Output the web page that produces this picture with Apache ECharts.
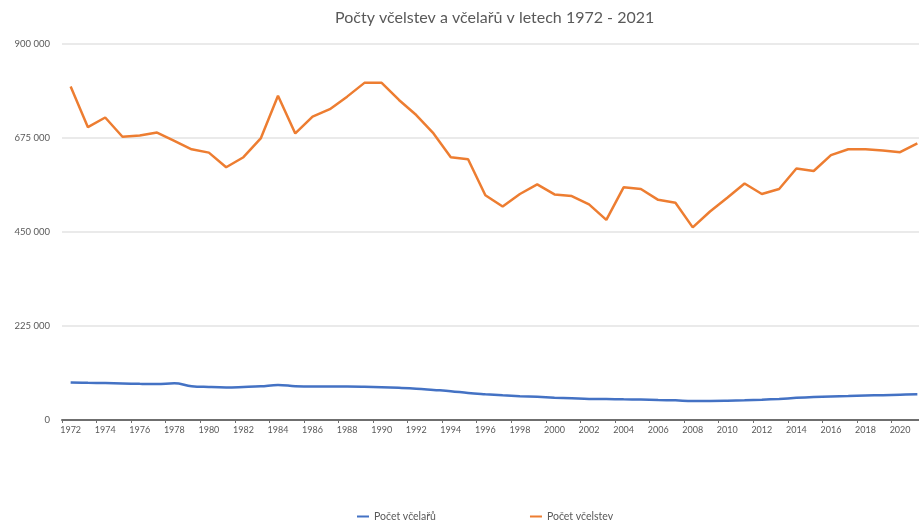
<!DOCTYPE html>
<html>
<head>
<meta charset="utf-8">
<script src="https://cdn.jsdelivr.net/npm/echarts@6/dist/echarts.min.js"></script>
<style>
html,body{margin:0;padding:0;background:#fff;}
#chart{width:919px;height:527px;}
</style>
</head>
<body>
<div id="chart"></div>
<script>
var years = [];
for (var y = 1972; y <= 2021; y++) years.push(String(y));

var titleText = 'Počty včelstev a včelařů v letech 1972 - 2021';
var seriesNames = ['Počet včelařů', 'Počet včelstev'];

var vcelari = [
  90000, 89000, 88500, 87500, 86500, 86000, 88000, 81000, 79000, 78000,
  79000, 80500, 84000, 81000, 80000, 80000, 80000, 79500, 78500, 77000,
  75000, 72000, 69000, 64500, 61500, 59000, 57000, 55500, 53500, 52000,
  50500, 50000, 49500, 49000, 48000, 47000, 45500, 45500, 46000, 47000,
  48500, 50500, 53000, 55000, 56500, 57500, 58500, 59500, 60500, 61500
];

var vcelstva = [
  798000, 701000, 724000, 678000, 681000, 688000, 668000, 648000, 640000, 605000,
  629000, 674000, 776000, 686000, 726000, 744000, 774000, 807000, 807000, 766000,
  730000, 686000, 629000, 624000, 538000, 511000, 541000, 564000, 540000, 536000,
  516000, 479000, 557000, 553000, 527000, 520000, 461000, 499000, 532000, 566000,
  541000, 553000, 602000, 596000, 634000, 648000, 648000, 645000, 641000, 662000
];

var yTicks = { min: 0, max: 900000, interval: 225000 };

function fmt(v) {
  return String(v).replace(/\B(?=(\d{3})+(?!\d))/g, ' ');
}

var chart = echarts.init(document.getElementById('chart'), null, { renderer: 'canvas' });
chart.setOption({
  animation: false,
  backgroundColor: '#ffffff',
  title: {
    text: titleText,
    left: 330,
    top: 5,
    textStyle: { fontFamily: 'Lato, "Open Sans", sans-serif', fontSize: 16, fontWeight: 'normal', color: '#595959' }
  },
  legend: {
    data: seriesNames,
    bottom: 0,
    left: 352,
    itemGap: 94,
    itemWidth: 12,
    itemHeight: 2,
    icon: 'rect',
    textStyle: { fontFamily: 'Lato, "Open Sans", sans-serif', fontSize: 10.5, color: '#595959' }
  },
  grid: {
    left: 62,
    right: -7,
    top: 44,
    bottom: 107,
    containLabel: false,
    outerBoundsMode: 'none'
  },
  xAxis: {
    type: 'category',
    data: years,
    boundaryGap: true,
    axisLine: { show: true, lineStyle: { color: '#6f6f6f', width: 2 } },
    axisTick: { show: true, length: 3, lineStyle: { color: '#6f6f6f' } },
    axisLabel: {
      interval: 1,
      margin: 6,
      fontFamily: 'Lato, "Open Sans", sans-serif',
      fontSize: 9,
      color: '#595959'
    },
    splitLine: { show: false }
  },
  yAxis: {
    type: 'value',
    min: yTicks.min,
    max: yTicks.max,
    interval: yTicks.interval,
    axisLine: { show: false },
    axisTick: { show: false },
    axisLabel: {
      margin: 12,
      fontFamily: 'Lato, "Open Sans", sans-serif',
      fontSize: 9.5,
      color: '#595959',
      formatter: fmt
    },
    splitLine: { lineStyle: { color: '#e3e3e3', width: 1.5 } }
  },
  series: [
    {
      name: seriesNames[0],
      type: 'line',
      data: vcelari,
      smooth: 0.4,
      symbol: 'none',
      lineStyle: { color: '#4472C4', width: 2.5 },
      itemStyle: { color: '#4472C4' }
    },
    {
      name: seriesNames[1],
      type: 'line',
      data: vcelstva,
      symbol: 'none',
      lineStyle: { color: '#ED7D31', width: 2.5 },
      itemStyle: { color: '#ED7D31' }
    }
  ]
});
</script>
</body>
</html>
